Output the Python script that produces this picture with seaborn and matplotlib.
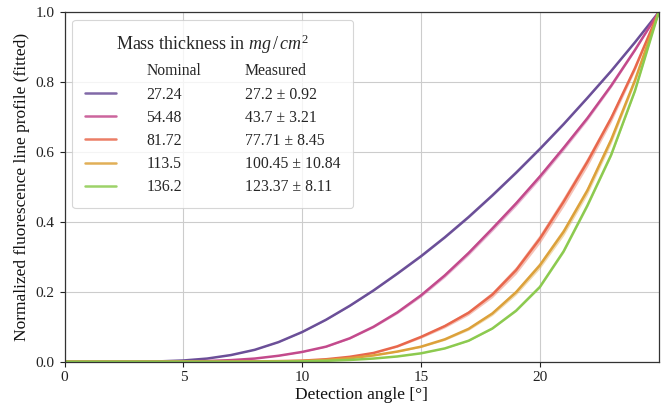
import numpy as np
import pandas as pd
import matplotlib
matplotlib.use("Agg")
import matplotlib.pyplot as plt
from matplotlib.lines import Line2D
import seaborn as sns

# Detection angles (degrees) at which the fitted profiles are tabulated
angle = list(range(0, 26))

# Normalized fitted fluorescence line profiles, one per sample
profile_27 = [0, 0, 0, 0.0002, 0.001, 0.0035, 0.009, 0.019, 0.034, 0.056, 0.085,
              0.12, 0.16, 0.204, 0.252, 0.302, 0.356, 0.414, 0.476, 0.541, 0.609,
              0.68, 0.755, 0.832, 0.914, 1.0]
profile_54 = [0, 0, 0, 0, 0.0002, 0.0007, 0.002, 0.0045, 0.009, 0.017, 0.028,
              0.043, 0.067, 0.100, 0.141, 0.190, 0.247, 0.311, 0.381, 0.453, 0.530,
              0.612, 0.697, 0.790, 0.892, 1.0]
profile_82 = [0, 0, 0, 0, 0, 0, 0.0001, 0.0003, 0.0008, 0.0017, 0.003,
              0.007, 0.014, 0.025, 0.044, 0.071, 0.102, 0.140, 0.192, 0.262, 0.352,
              0.458, 0.572, 0.697, 0.840, 1.0]
profile_114 = [0, 0, 0, 0, 0, 0, 0, 0, 0.0002, 0.0007, 0.002,
               0.005, 0.010, 0.018, 0.029, 0.043, 0.064, 0.094, 0.138, 0.199, 0.276,
               0.372, 0.490, 0.635, 0.805, 1.0]
profile_136 = [0, 0, 0, 0, 0, 0, 0, 0, 0, 0.0003, 0.001,
               0.0025, 0.005, 0.009, 0.015, 0.024, 0.038, 0.060, 0.095, 0.146, 0.214,
               0.316, 0.447, 0.592, 0.775, 1.0]

# Mass thickness labels (mg/cm^2)
nominal = ["27.24", "54.48", "81.72", "113.5", "136.2"]
measured = ["27.2 ± 0.92", "43.7 ± 3.21", "77.71 ± 8.45", "100.45 ± 10.84", "123.37 ± 8.11"]

# Peak half-width of the fit uncertainty band for each profile
band_halfwidth = [0.003, 0.008, 0.014, 0.012, 0.005]

colors = ["#6b4f98", "#c34a8c", "#e8674c", "#dca13a", "#8cca4f"]

profiles = [profile_27, profile_54, profile_82, profile_114, profile_136]

# Long-form table: lower, central and upper value at each angle, so that
# seaborn's percentile interval spans the uncertainty band.
rows = []
for lab, prof, hw in zip(nominal, profiles, band_halfwidth):
    for a, v in zip(angle, prof):
        w = hw * 4 * v * (1 - v)
        for val in (v - w, v, v + w):
            rows.append({"angle": a, "value": val, "sample": lab})
df = pd.DataFrame(rows)

sns.set_theme(style="ticks", rc={"axes.grid": True})
plt.rcParams["font.family"] = ["Liberation Serif", "DejaVu Serif"]
plt.rcParams["mathtext.fontset"] = "custom"
plt.rcParams["mathtext.rm"] = "Liberation Serif"
plt.rcParams["mathtext.it"] = "Liberation Serif:italic"
plt.rcParams["grid.color"] = "#cccccc"
plt.rcParams["grid.linewidth"] = 0.8
plt.rcParams["axes.edgecolor"] = "#333333"
plt.rcParams["axes.linewidth"] = 0.9

fig = plt.figure(figsize=(6.65, 4.05), dpi=100)
ax = fig.add_axes([0.0971, 0.1069, 0.8934, 0.8627])

sns.lineplot(data=df, x="angle", y="value", hue="sample", hue_order=nominal,
             palette=colors, estimator="mean", errorbar=("pi", 100),
             linewidth=1.8, err_kws={"alpha": 0.4, "linewidth": 0},
             legend=False, ax=ax)

ax.set_xlim(0, 25)
ax.set_ylim(0, 1.0)
ax.set_xticks([0, 5, 10, 15, 20])
ax.set_yticks([0.0, 0.2, 0.4, 0.6, 0.8, 1.0])
ax.set_yticklabels(["0.0", "0.2", "0.4", "0.6", "0.8", "1.0"])
ax.tick_params(labelsize=11, colors="#222222", length=3.5, width=0.8)
ax.set_xlabel("Detection angle [°]", fontsize=12.5, color="#111111", labelpad=2)
ax.set_ylabel("Normalized fluorescence line profile (fitted)", fontsize=12.5,
              color="#111111", labelpad=4)
for s in ax.spines.values():
    s.set_visible(True)

# Two-column legend: nominal thickness beside each line, measured value next to it
blank = Line2D([], [], linestyle="none")
handles = [blank] + [Line2D([], [], color=c, lw=1.8, alpha=0.85) for c in colors]
handles += [blank] * 6
labels = ["Nominal"] + nominal + ["Measured"] + measured
leg = ax.legend(handles, labels, ncol=2, loc="upper left",
                title=r"Mass thickness in $mg\,/\,cm^2$",
                title_fontsize=13, fontsize=11.3, handlelength=2.0,
                handletextpad=1.9, columnspacing=-1.1, labelspacing=0.46,
                borderpad=0.8, framealpha=0.8, edgecolor="#cccccc", fancybox=True)
leg.get_frame().set_linewidth(0.8)

fig.savefig("out.png", dpi=100)
